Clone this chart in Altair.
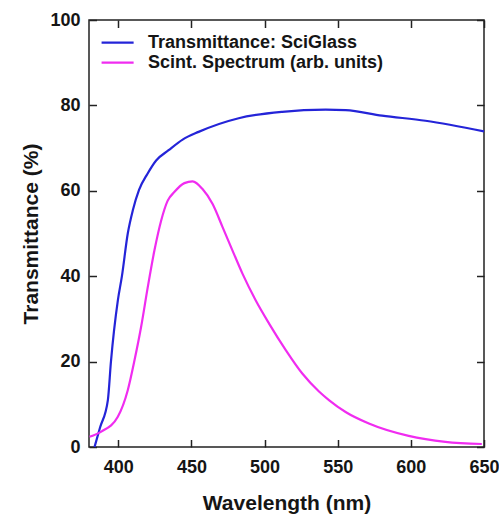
import altair as alt
import pandas as pd

# Transmittance: SciGlass
trans_wl = [383.8, 387.5, 392.9, 395.0, 399.7, 402.5, 406.5, 410.0, 414.2, 420.0, 425.9,
            434.4, 444.0, 454.9, 482.3, 512.0, 541.8, 555.4, 580.3, 610.0, 650.0]
trans_val = [0.0, 4.5, 11.0, 20.0, 34.3, 40.0, 50.0, 55.5, 60.2, 64.0, 67.1,
             69.5, 72.0, 73.8, 77.0, 78.5, 79.0, 78.9, 77.6, 76.4, 73.9]

# Scint. Spectrum (arb. units)
scint_wl = [380.4, 388.4, 399.7, 406.5, 411.1, 415.6, 420.2, 424.7, 429.3, 433.8, 438.3,
            445.2, 450.8, 457.6, 464.5, 471.3, 478.1, 484.9, 494.0, 503.1, 514.5, 525.8,
            537.2, 544.0, 555.4, 571.3, 598.5, 623.6, 648.5]
scint_val = [2.4, 3.6, 7.1, 13.3, 20.3, 28.1, 37.5, 46.0, 53.0, 57.7, 59.7,
             61.8, 62.2, 60.4, 56.9, 51.5, 46.0, 40.6, 34.3, 28.9, 22.7, 17.2,
             13.0, 11.0, 8.2, 5.5, 2.6, 1.2, 0.7]

series_names = ["Transmittance: SciGlass", "Scint. Spectrum (arb. units)"]
series_colors = ["#2424d8", "#f02cf0"]

x_ticks = [400, 450, 500, 550, 600, 650]
y_ticks = [0, 20, 40, 60, 80, 100]

X0, X1 = 380, 650
Y0, Y1 = 0, 100
W, H = 395, 427
FONT = "Liberation Sans"
TXT = "#151515"
AX = "#222222"
TL = 7.5  # inward tick length

df = pd.concat([
    pd.DataFrame({"wl": trans_wl, "val": trans_val, "series": series_names[0]}),
    pd.DataFrame({"wl": scint_wl, "val": scint_val, "series": series_names[1]}),
])

xs = alt.Scale(domain=[X0, X1], nice=False, zero=False)
ys = alt.Scale(domain=[Y0, Y1], nice=False)
cs = alt.Scale(domain=series_names, range=series_colors)

# main axes: shifted inward by the tick length so their ticks point into the plot
x_axis = alt.Axis(orient="bottom", values=x_ticks, offset=-TL, tickSize=TL, ticks=True,
                  tickColor=AX, tickWidth=1.5, domain=False, grid=False, labelPadding=11,
                  labelFontSize=18, labelFontWeight="bold", labelFont=FONT,
                  titleFontSize=21, titleFontWeight="bold", titleFont=FONT,
                  titlePadding=16, labelColor=TXT, titleColor=TXT, labelFlush=False)
y_axis = alt.Axis(orient="left", values=y_ticks, offset=-TL, tickSize=TL, ticks=True,
                  tickColor=AX, tickWidth=1.5, domain=False, grid=False, labelPadding=9,
                  labelFontSize=18, labelFontWeight="bold", labelFont=FONT,
                  titleFontSize=21, titleFontWeight="bold", titleFont=FONT,
                  titlePadding=8, labelColor=TXT, titleColor=TXT, labelFlush=False)
# mirrored tick-only axes on top and right
x_axis_top = alt.Axis(orient="top", values=x_ticks, offset=-TL, tickSize=TL, ticks=True,
                      tickColor=AX, tickWidth=1.5, domain=False, grid=False,
                      labels=False, title=None)
y_axis_right = alt.Axis(orient="right", values=y_ticks, offset=-TL, tickSize=TL, ticks=True,
                        tickColor=AX, tickWidth=1.5, domain=False, grid=False,
                        labels=False, title=None)

lines = alt.Chart(df).mark_line(strokeWidth=2.2, interpolate="monotone").encode(
    x=alt.X("wl:Q", scale=xs, title="Wavelength (nm)", axis=x_axis),
    y=alt.Y("val:Q", scale=ys, title="Transmittance (%)", axis=y_axis),
    color=alt.Color("series:N", scale=cs, legend=None),
)

mirror = alt.Chart(df).mark_line(opacity=0).encode(
    x=alt.X("wl:Q", scale=xs, axis=x_axis_top),
    y=alt.Y("val:Q", scale=ys, axis=y_axis_right),
)

# legend inside the plot, top-left
leg_df = pd.DataFrame({
    "series": series_names,
    "ly": [94.7, 90.0],
    "lx1": [388.6, 388.6],
    "lx2": [410.5, 410.5],
    "tx": [420.3, 420.3],
})
leg_lines = alt.Chart(leg_df).mark_rule(strokeWidth=2.2).encode(
    x=alt.X("lx1:Q", scale=xs, axis=None), x2="lx2:Q",
    y=alt.Y("ly:Q", scale=ys, axis=None),
    color=alt.Color("series:N", scale=cs, legend=None),
)
leg_text = alt.Chart(leg_df).mark_text(
    align="left", baseline="middle", fontSize=18, fontWeight="bold", font=FONT, color=TXT
).encode(
    x=alt.X("tx:Q", scale=xs, axis=None),
    y=alt.Y("ly:Q", scale=ys, axis=None),
    text="series:N",
)

chart = alt.layer(lines, mirror, leg_lines, leg_text).resolve_axis(
    x="independent", y="independent"
).properties(
    width=W, height=H,
    background="white",
    autosize=alt.AutoSizeParams(type="none"),
    padding={"left": 89, "top": 20, "right": 15, "bottom": 70},
).configure_view(stroke=AX, strokeWidth=1.5)

chart.save("out.html", embed_options={"renderer": "svg", "actions": False})
